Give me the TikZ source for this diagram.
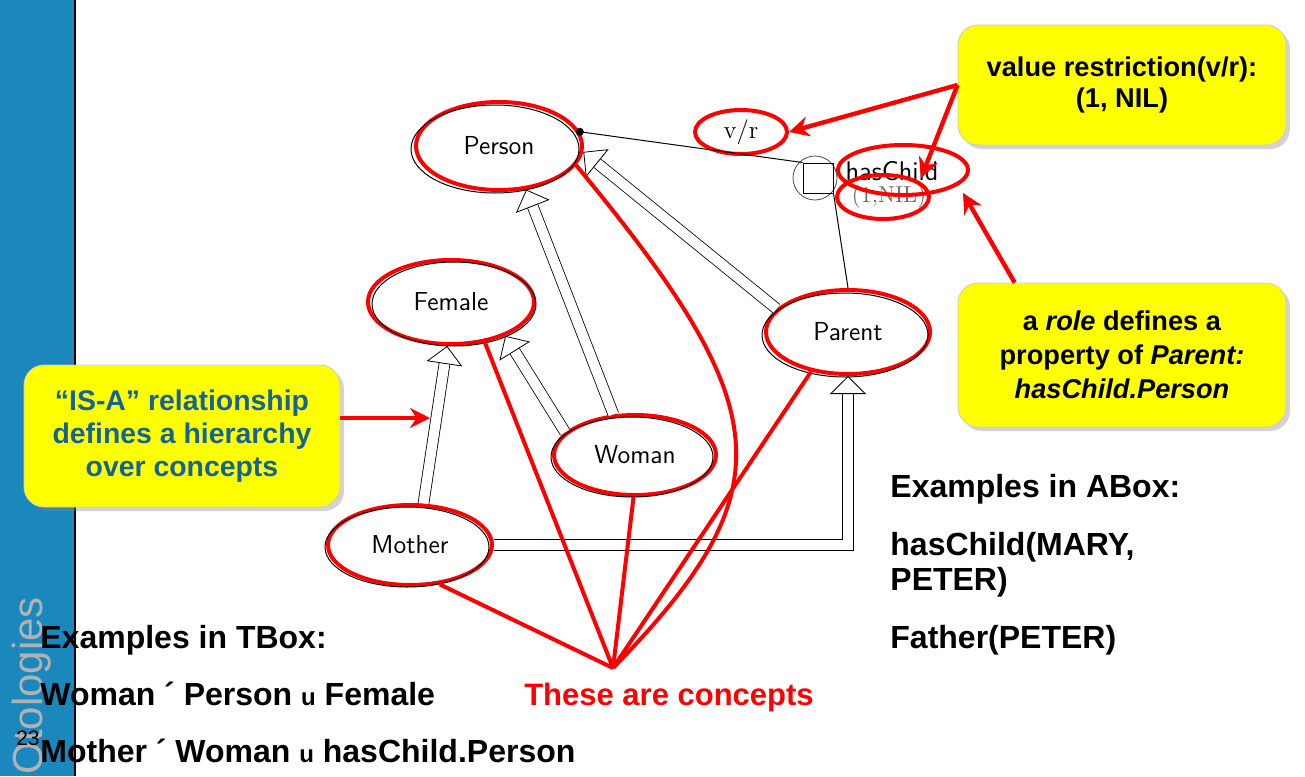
\documentclass[tikz,border=0pt]{standalone}
\usepackage{fontspec}
\newfontfamily\arialfont{Liberation Sans}
\usetikzlibrary{calc,shapes.geometric,arrows.meta,shadows}
\definecolor{sidebar}{RGB}{26,136,189}
\definecolor{isablue}{RGB}{20,98,150}
\definecolor{notebox}{RGB}{255,255,0}

\begin{document}
\begin{tikzpicture}[x=0.5pt,y=-0.5pt,
  concept/.style={ellipse,draw=red,line width=2pt,inner sep=0pt,
    font=\sffamily\fontsize{13}{13}\selectfont},
  ring/.style={ellipse,draw=red,line width=2pt,inner sep=0pt},
  outline/.style={line width=0.5pt},
  isa/.style={double,double distance=5pt,line width=0.4pt,-{Triangle[open,length=9pt,width=18pt]}},
  hint/.style={red,line width=2pt},
  pointer/.style={red,line width=2.2pt,-{Stealth[length=10pt,width=10pt]}},
  note/.style={rectangle,rounded corners=10pt,fill=notebox,draw=black!20,
    drop shadow={opacity=0.35,shadow xshift=2pt,shadow yshift=-2pt},
    align=center,font=\arialfont\bfseries\fontsize{13.6}{15.5}\selectfont},
  example/.style={anchor=base west,inner sep=0pt,font=\arialfont\bfseries\fontsize{16}{17}\selectfont}]
\useasboundingbox (0,0) rectangle (1305,776);
\fill[sidebar] (0,0) rectangle (75,776);
\draw[line width=0.8pt] (75,0) -- (75,776);
\node[rotate=90,anchor=base west,inner sep=0pt,text=black!30,font=\arialfont\fontsize{21}{21}\selectfont] (slidetitle) at (42,775) {Otologies};
\node[font=\arialfont\fontsize{10.5}{10.5}\selectfont] (pagenum) at (28,738) {23};

\node[concept,minimum width=83pt,minimum height=44pt] (person) at (499,146) {Person};
\node[concept,minimum width=83pt,minimum height=42pt] (female) at (451,302) {Female};
\node[concept,minimum width=82pt,minimum height=42pt] (parent) at (848,332) {Parent};
\node[concept,minimum width=81pt,minimum height=40pt] (woman) at (635,455) {Woman};
\node[concept,minimum width=82pt,minimum height=40pt] (mother) at (410,545) {Mother};
\draw[outline] ([shift={(-4,3)}]person.center) ellipse [x radius=84,y radius=44];
\draw[outline] ([shift={(3,2)}]female.center) ellipse [x radius=82,y radius=42];
\draw[outline] ([shift={(-3,3)}]parent.center) ellipse [x radius=83,y radius=42];
\draw[outline] ([shift={(-3,2)}]woman.center) ellipse [x radius=81,y radius=40];
\draw[outline] ([shift={(-3,2)}]mother.center) ellipse [x radius=82,y radius=40];

\node[ring,minimum width=46pt,minimum height=22pt,font=\rmfamily\fontsize{12.5}{12.5}\selectfont] (vrtag) at (741,132) {v/r};
\node[font=\sffamily\fontsize{13.5}{13.5}\selectfont] (haschild) at (892,171) {hasChild};
\node[font=\rmfamily\fontsize{11.5}{11.5}\selectfont,text=black!60] (nil) at (889,197) {(1,NIL)};
\node[ring,minimum width=65pt,minimum height=25pt] (childring) at (903,170) {};
\node[ring,minimum width=46pt,minimum height=22pt] (nilring) at (883,197) {};
\node[circle,draw=black!70,line width=0.4pt,minimum size=22pt] (link) at (815,178) {};
\node[draw,line width=0.5pt,minimum size=15pt,inner sep=0pt] (linkbox) at (818,178) {};
\coordinate (dot) at (person.10);
\fill (dot) circle (2pt);
\draw[line width=0.5pt] (dot) -- (linkbox.north west);
\draw[line width=0.5pt] (linkbox.south east) -- (parent.north);

\draw[isa] (woman.118) -- (person.-58);
\draw[isa] (woman.162) -- (female.-32);
\draw[isa] (mother.72) -- (female.-95);
\draw[isa] (parent.162) -- (person.-4);
\draw[isa] (mother.east) -| (parent.south);

\coordinate (hub) at (613,668);
\draw[hint] (mother.-53) -- (hub);
\draw[hint] (female.-50) -- (hub);
\draw[hint] (woman.-92) -- (hub);
\draw[hint] (parent.-133) -- (hub);
\draw[hint] (person.-14) .. controls (776,407) and (789,488) .. (hub);
\node[font=\arialfont\bfseries\fontsize{15.5}{15.5}\selectfont,text=red] (conceptlabel) at (669,697) {These are concepts};

\node[note,minimum width=164pt,minimum height=60pt] (vrnote) at (1122,85) {value restriction(v/r):\\(1, NIL)};
\node[note,minimum width=164pt,minimum height=72pt,font=\arialfont\bfseries\fontsize{13.6}{17}\selectfont] (rolenote) at (1122,355) {a \textit{role} defines a\\property of \textit{Parent:}\\\textit{hasChild.Person}};
\node[note,text=isablue,minimum width=158pt,minimum height=71pt,font=\arialfont\bfseries\fontsize{14.2}{16.5}\selectfont] (isanote) at (182,436) {“IS-A” relationship\\defines a hierarchy\\over concepts};
\coordinate (isatip) at (430,418);
\coordinate (childtip) at (921,178);
\coordinate (roletip) at (963,193);
\draw[pointer] (isanote.east |- isatip) -- (isatip);
\draw[pointer] (vrnote.west) -- (vrtag.east);
\draw[pointer] (vrnote.west) -- (childtip);
\draw[pointer] (rolenote.146) -- (roletip);

\node[example] (tboxhead) at (40,648) {Examples in TBox:};
\node[example] (tboxwoman) at (40,705) {Woman ´ Person {\fontsize{12}{12}\selectfont u} Female};
\node[example] (tboxmother) at (40,762) {Mother ´ Woman {\fontsize{12}{12}\selectfont u} hasChild.Person};
\node[example] (aboxhead) at (890,497) {Examples in ABox:};
\node[example] (aboxchild) at (890,555) {hasChild(MARY,};
\node[example] (aboxpeter) at (890,590) {PETER)};
\node[example] (aboxfather) at (890,648) {Father(PETER)};
\end{tikzpicture}
\end{document}
